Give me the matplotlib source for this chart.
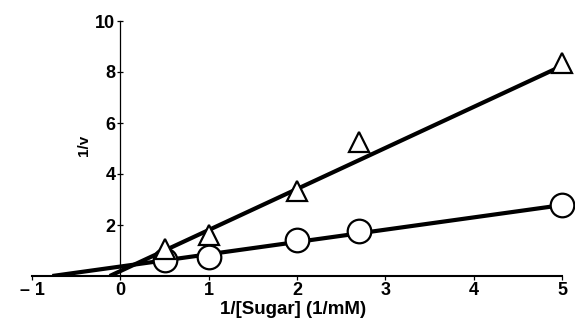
#!/usr/bin/env python3
"""Double-reciprocal plot: 1/v against 1/[Sugar], two series with fitted lines."""

import matplotlib
matplotlib.use("Agg")
import matplotlib.pyplot as plt

# Data
sugar_inv = [0.5, 1.0, 2.0, 2.7, 5.0]
tri_v_inv = [1.05, 1.6, 3.35, 5.27, 8.35]
circ_v_inv = [0.63, 0.73, 1.41, 1.78, 2.78]

# Fitted lines, as drawn (x-intercept to x = 5)
tri_fit_x = [-0.12, 5.0]
tri_fit_y = [0.0, 8.24]
circ_fit_x = [-0.77, 5.0]
circ_fit_y = [0.0, 2.78]

x_ticks = [-1, 0, 1, 2, 3, 4, 5]
x_tick_labels = ["\u2013 1", "0", "1", "2", "3", "4", "5"]
y_ticks = [2, 4, 6, 8, 10]

plt.rcParams["font.family"] = ["Liberation Sans", "DejaVu Sans"]

fig = plt.figure(figsize=(5.75, 3.2), dpi=100)
ax = fig.add_axes([32 / 575, 44 / 320, 530 / 575, 255 / 320])

ax.plot(tri_fit_x, tri_fit_y, color="black", lw=3.0, solid_capstyle="butt", zorder=2)
ax.plot(circ_fit_x, circ_fit_y, color="black", lw=3.0, solid_capstyle="butt", zorder=2)

ax.plot(sugar_inv, circ_v_inv, ls="none", marker="o", ms=17, mfc="white",
        mec="black", mew=1.6, clip_on=False, zorder=3)
ax.plot(sugar_inv, tri_v_inv, ls="none", marker="^", ms=15, mfc="white",
        mec="black", mew=1.6, clip_on=False, zorder=4)

ax.set_xlim(-1, 5)
ax.set_ylim(0, 10)

ax.spines["top"].set_visible(False)
ax.spines["right"].set_visible(False)
ax.spines["left"].set_position(("data", 0))
ax.spines["left"].set_linewidth(0.9)
ax.spines["bottom"].set_linewidth(1.5)

ax.set_xticks(x_ticks)
ax.set_xticklabels(x_tick_labels)
ax.set_yticks(y_ticks)
ax.tick_params(axis="both", labelsize=13, width=0.9, colors="black")
ax.tick_params(axis="y", direction="inout", length=5, pad=1)
ax.tick_params(axis="x", direction="out", length=3, pad=1)
for lbl in ax.get_xticklabels() + ax.get_yticklabels():
    lbl.set_fontweight("bold")

fig.text(84 / 575, 1 - 145 / 320, "1/v", rotation=90, ha="center", va="center",
         fontsize=11, fontweight="bold")
fig.text(293 / 575, 1 - 309 / 320, "1/[Sugar] (1/mM)", ha="center", va="center",
         fontsize=13.5, fontweight="bold")

fig.savefig("out.png", dpi=100)
